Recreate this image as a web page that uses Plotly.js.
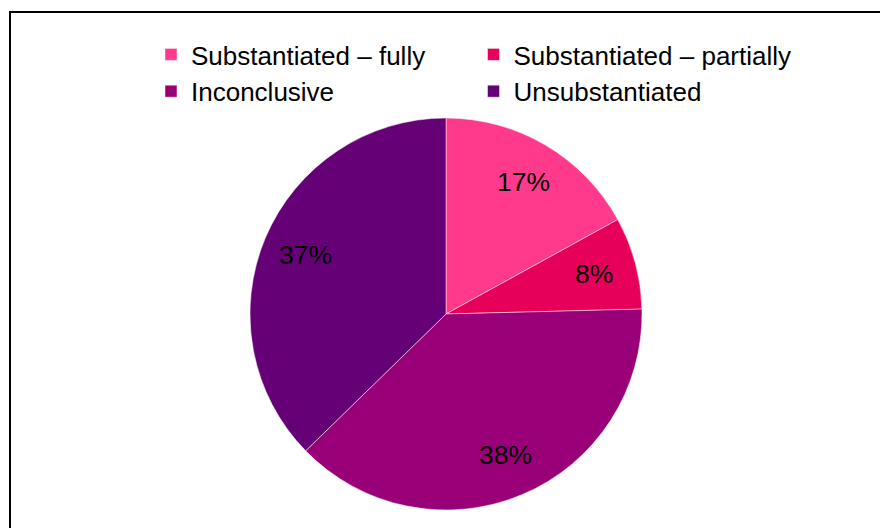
<!DOCTYPE html>
<html>
<head>
<meta charset="utf-8">
<script src="https://cdn.plot.ly/plotly-3.0.1.min.js"></script>
<style>
html,body{margin:0;padding:0;background:#fff;}
#chart{width:880px;height:528px;}
</style>
</head>
<body>
<div id="chart"></div>
<script>
var categories = ["Substantiated \u2013 fully", "Substantiated \u2013 partially", "Inconclusive", "Unsubstantiated"];
var shares = [17.0, 7.6, 38.1, 37.3];
var sliceColors = ["#FF3A8C", "#E6005A", "#990078", "#660077"];

// pie geometry (pixels)
var W = 880, H = 528;
var CX = 446, CY = 314, R = 196;
var LABEL_FRAC = 0.78;

var total = shares.reduce(function (a, b) { return a + b; }, 0);
var annotations = [];
var cum = 0;
shares.forEach(function (v) {
  var mid = (cum + v / 2) / total * 2 * Math.PI;
  cum += v;
  var px = CX + LABEL_FRAC * R * Math.sin(mid);
  var py = CY - LABEL_FRAC * R * Math.cos(mid);
  annotations.push({
    xref: "paper", yref: "paper",
    x: px / W, y: 1 - py / H,
    xanchor: "center", yanchor: "middle",
    text: Math.round(v / total * 100) + "%",
    showarrow: false,
    font: {family: "Liberation Sans, Arial, sans-serif", size: 26.5, color: "#000"}
  });
});

var trace = {
  type: "pie",
  labels: categories,
  values: shares,
  sort: false,
  direction: "clockwise",
  rotation: 0,
  marker: {colors: sliceColors, line: {color: "rgba(255,255,255,0.6)", width: 0.8}},
  textinfo: "none",
  hoverinfo: "label+percent",
  domain: {x: [(CX - R) / W, (CX + R) / W], y: [1 - (CY + R) / H, 1 - (CY - R) / H]}
};

var layout = {
  width: W,
  height: H,
  margin: {l: 0, r: 0, t: 0, b: 0, pad: 0},
  paper_bgcolor: "#fff",
  showlegend: true,
  legend: {
    orientation: "h",
    x: 151 / W, xanchor: "left",
    y: 1 - 31 / H, yanchor: "top",
    font: {family: "Liberation Sans, Arial, sans-serif", size: 26, color: "#000"},
    itemclick: false
  },
  annotations: annotations,
  shapes: [{
    type: "rect", xref: "paper", yref: "paper",
    x0: 10 / W, x1: 1.2, y0: -0.2, y1: 1 - 12 / H,
    line: {color: "#000", width: 2}, fillcolor: "rgba(0,0,0,0)", layer: "below"
  }]
};

Plotly.newPlot("chart", [trace], layout, {displayModeBar: false, staticPlot: true});
</script>
</body>
</html>
